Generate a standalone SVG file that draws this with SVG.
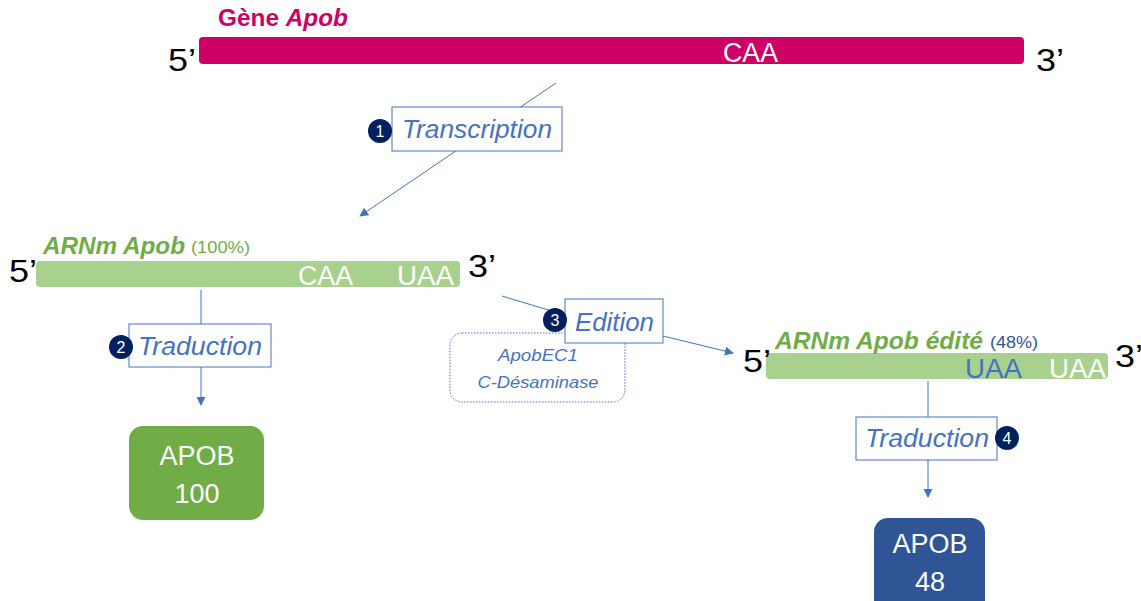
<svg xmlns="http://www.w3.org/2000/svg" width="1141" height="601" viewBox="0 0 1141 601">
<defs>
<style>
text{font-family:"Liberation Sans","Open Sans",Arial,sans-serif}
.end{font-size:31px;fill:#000}
.codon{font-size:27px;fill:#fff}
.step{font-size:25px;fill:#4472C4;font-style:italic}
.box{fill:#fff;stroke:#4472C4;stroke-width:1}
.num{fill:#002060}
.numt{font-size:16px;fill:#fff;text-anchor:middle}
.conn{stroke:#4472C4;stroke-width:1;fill:none}
.prot{font-size:27px;fill:#fff;text-anchor:middle}
</style>
<marker id="ah" viewBox="0 0 10 10" refX="9" refY="5" markerWidth="9" markerHeight="9" markerUnits="userSpaceOnUse" orient="auto">
<path d="M0,0 L10,5 L0,10 z" fill="#4472C4"/>
</marker>
</defs>
<rect width="1141" height="601" fill="#fff"/>

<g id="connectors">
<line class="conn" x1="556" y1="83" x2="360" y2="216" marker-end="url(#ah)"/>
<line class="conn" x1="201" y1="290" x2="201" y2="405" marker-end="url(#ah)"/>
<polyline class="conn" points="502,296 568,316"/>
<line class="conn" x1="663" y1="336" x2="733" y2="353" marker-end="url(#ah)"/>
<line class="conn" x1="928" y1="381" x2="928" y2="497" marker-end="url(#ah)"/>
</g>

<g id="gene">
<rect x="199" y="37" width="825" height="27" rx="4" fill="#CC0066"/>
<text x="218" y="26" font-size="23" font-weight="bold" fill="#CC0066" textLength="130" lengthAdjust="spacingAndGlyphs">Gène <tspan font-style="italic">Apob</tspan></text>
<text class="end" x="168" y="71" textLength="28" lengthAdjust="spacingAndGlyphs">5’</text>
<text class="end" x="1036" y="71" textLength="28" lengthAdjust="spacingAndGlyphs">3’</text>
<text class="codon" x="723" y="62" textLength="55" lengthAdjust="spacingAndGlyphs">CAA</text>
</g>

<g id="transcription">
<rect class="box" x="392" y="107" width="170" height="44"/>
<text class="step" x="402" y="138" textLength="150" lengthAdjust="spacingAndGlyphs">Transcription</text>
<circle class="num" cx="380" cy="131" r="12"/>
<text class="numt" x="380" y="137">1</text>
</g>

<g id="arnm">
<rect x="36" y="261" width="424" height="26" rx="4" fill="#A9D18E"/>
<text x="43" y="254" font-size="23" font-weight="bold" font-style="italic" fill="#70AD47" textLength="142" lengthAdjust="spacingAndGlyphs">ARNm Apob</text>
<text x="191" y="253" font-size="17" fill="#70AD47" textLength="59" lengthAdjust="spacingAndGlyphs">(100%)</text>
<text class="end" x="9" y="282" textLength="28" lengthAdjust="spacingAndGlyphs">5’</text>
<text class="end" x="468" y="277" textLength="28" lengthAdjust="spacingAndGlyphs">3’</text>
<text class="codon" x="298" y="285" textLength="55" lengthAdjust="spacingAndGlyphs">CAA</text>
<text class="codon" x="397" y="285" textLength="57" lengthAdjust="spacingAndGlyphs">UAA</text>
</g>

<g id="traduction1">
<rect class="box" x="129" y="324" width="142" height="43"/>
<text class="step" x="138" y="355" textLength="124" lengthAdjust="spacingAndGlyphs">Traduction</text>
<circle class="num" cx="121" cy="347" r="12"/>
<text class="numt" x="121" y="353">2</text>
</g>

<g id="apob100">
<rect x="129" y="426" width="135" height="94" rx="14" fill="#70AD47"/>
<text class="prot" x="197" y="465">APOB</text>
<text class="prot" x="197" y="503">100</text>
</g>

<g id="enzyme">
<rect x="450" y="333" width="175" height="69" rx="12" fill="#fff" stroke="#4472C4" stroke-width="1" stroke-dasharray="1.5,1.5"/>
<text x="538" y="361" font-size="17" font-style="italic" fill="#4472C4" text-anchor="middle" textLength="80" lengthAdjust="spacingAndGlyphs">ApobEC1</text>
<text x="538" y="388" font-size="17" font-style="italic" fill="#4472C4" text-anchor="middle" textLength="121" lengthAdjust="spacingAndGlyphs">C-Désaminase</text>
</g>

<g id="edition">
<rect class="box" x="565" y="299" width="98" height="44"/>
<text class="step" x="575" y="331" textLength="79" lengthAdjust="spacingAndGlyphs">Edition</text>
<circle class="num" cx="555" cy="320" r="12"/>
<text class="numt" x="555" y="326">3</text>
</g>

<g id="arnm-edite">
<rect x="766" y="353" width="342" height="26" rx="4" fill="#A9D18E"/>
<text x="775" y="349" font-size="23" font-weight="bold" font-style="italic" fill="#70AD47" textLength="208" lengthAdjust="spacingAndGlyphs">ARNm Apob édité</text>
<text x="990" y="348" font-size="17" fill="#2F5597" textLength="48" lengthAdjust="spacingAndGlyphs">(48%)</text>
<text class="end" x="743" y="372" textLength="28" lengthAdjust="spacingAndGlyphs">5’</text>
<text class="end" x="1115" y="367" textLength="28" lengthAdjust="spacingAndGlyphs">3’</text>
<text x="965" y="378" font-size="27" fill="#4472C4" textLength="57" lengthAdjust="spacingAndGlyphs">UAA</text>
<text class="codon" x="1049" y="378" textLength="57" lengthAdjust="spacingAndGlyphs">UAA</text>
</g>

<g id="traduction2">
<rect class="box" x="856" y="417" width="141" height="43"/>
<text class="step" x="865" y="447" textLength="124" lengthAdjust="spacingAndGlyphs">Traduction</text>
<circle class="num" cx="1007" cy="438" r="12"/>
<text class="numt" x="1007" y="444">4</text>
</g>

<g id="apob48">
<rect x="874" y="518" width="111" height="100" rx="14" fill="#2F5597"/>
<text class="prot" x="930" y="553">APOB</text>
<text class="prot" x="930" y="591">48</text>
</g>
</svg>
